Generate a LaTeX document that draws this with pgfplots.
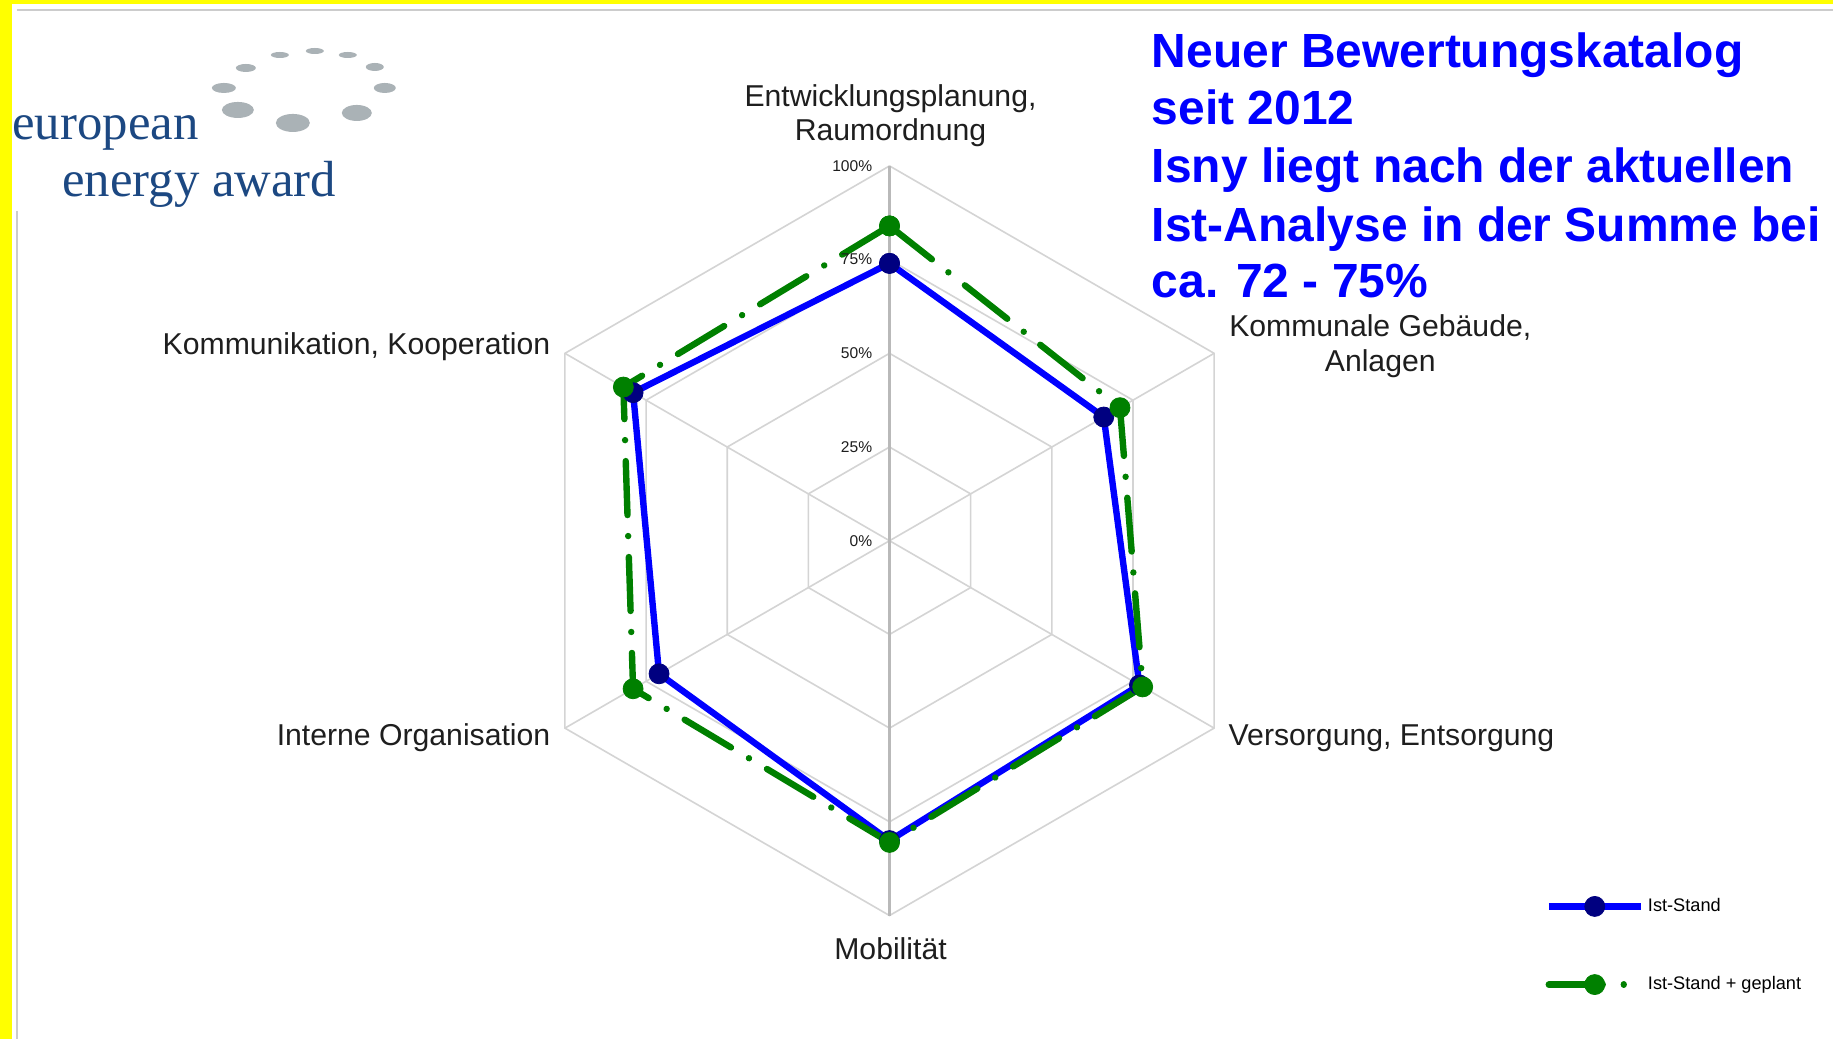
\documentclass[border=0pt]{standalone}
\usepackage{pgfplots}
\pgfplotsset{compat=1.18}
\usepgfplotslibrary{polar}
\usepackage{fontspec}
\setmainfont{Liberation Sans}
\newfontfamily\logofont{Liberation Serif}
\newfontfamily\titlefont{Liberation Sans}
\definecolor{eeablue}{RGB}{28,72,130}
\definecolor{dotgray}{RGB}{170,178,182}
\definecolor{navy}{RGB}{0,0,128}
\definecolor{dgreen}{RGB}{0,128,0}
\definecolor{gridgray}{RGB}{212,212,212}
\definecolor{spokegray}{RGB}{185,185,185}
\definecolor{ybg}{RGB}{255,255,0}
\definecolor{txt}{RGB}{30,30,30}

\begin{document}
\begin{tikzpicture}[x=0.5pt,y=-0.5pt]
\fill[ybg] (0,0) rectangle (1834,1040);
\fill[white] (12,4) rectangle (1834,1040);
\draw[gray!40, line width=1pt] (17,10) -- (1834,10);
\draw[gray!40, line width=1pt] (17,211) -- (17,1040);
% logo
\foreach \x/\y/\a/\b in {280/55/9/3, 315/51/9/3, 348/55/9/3, 375/67/9/4, 385/88/11/5, 357/113/15/8, 293/123/17/9, 238/110/16/8, 224/88/12/5, 246/68/10/4}
  \fill[dotgray] (\x,\y) ellipse [x radius=\a, y radius=\b];
\node[anchor=base west, inner sep=0, text=eeablue, font=\logofont\fontsize{25.4}{30}\selectfont] at (12,140) {european};
\node[anchor=base west, inner sep=0, text=eeablue, font=\logofont\fontsize{25.4}{30}\selectfont] at (62,197) {energy award};
% title
\begin{scope}[every node/.style={anchor=base west, inner sep=0, text=blue, font=\titlefont\bfseries\fontsize{24}{28}\selectfont}]
\node at (1152,68) {Neuer Bewertungskatalog};
\node at (1152,125) {seit 2012};
\node at (1152,183) {Isny liegt nach der aktuellen};
\node at (1152,242) {Ist-Analyse in der Summe bei};
\node at (1152,298) {ca. 72 - 75\%};
\end{scope}
% category labels
\begin{scope}[every node/.style={inner sep=0, text=txt, font=\fontsize{15.1}{17}\selectfont}]
\node[anchor=base] at (891,107) {Entwicklungsplanung,};
\node[anchor=base] at (891,141) {Raumordnung};
\node[anchor=base] at (1381,337) {Kommunale Gebäude,};
\node[anchor=base] at (1381,372) {Anlagen};
\node[anchor=base west] at (1229,746) {Versorgung, Entsorgung};
\node[anchor=base] at (891,960) {Mobilität};
\node[anchor=base east] at (551,746) {Interne Organisation};
\node[anchor=base east] at (551,355) {Kommunikation, Kooperation};
\end{scope}

\begin{polaraxis}[
  at={(445pt,-270.5pt)}, anchor=center,
  scale only axis, width=375pt, height=375pt,
  ymin=0, ymax=100, hide axis, clip=false,
  legend image code/.code={\draw[mark repeat=2, mark phase=2, #1] plot coordinates {(0pt,0pt) (23pt,0pt) (46pt,0pt)};},
  legend style={draw=none, fill=none, inner sep=0pt, font=\fontsize{9.1}{11}\selectfont, row sep=27pt,
     cells={anchor=west}, at={(1.3747,-0.040)}, anchor=west},
]
% grid rings
\addplot[gridgray, line width=0.8pt, forget plot] coordinates {(90,25)(30,25)(330,25)(270,25)(210,25)(150,25)(90,25)};
\addplot[gridgray, line width=0.8pt, forget plot] coordinates {(90,50)(30,50)(330,50)(270,50)(210,50)(150,50)(90,50)};
\addplot[gridgray, line width=0.8pt, forget plot] coordinates {(90,75)(30,75)(330,75)(270,75)(210,75)(150,75)(90,75)};
\addplot[gridgray, line width=0.8pt, forget plot] coordinates {(90,100)(30,100)(330,100)(270,100)(210,100)(150,100)(90,100)};
% spokes
\addplot[gridgray, line width=0.8pt, forget plot] coordinates {(30,100)(210,100)};
\addplot[gridgray, line width=0.8pt, forget plot] coordinates {(150,100)(330,100)};
\addplot[spokegray, line width=1.3pt, forget plot] coordinates {(90,100)(270,100)};
% data
\addplot[color=blue, line width=3.2pt, line join=round, mark=*, mark size=5pt,
  mark options={fill=navy, draw=navy, solid, line width=0.4pt}]
  coordinates {(90,74)(30,66)(330,77)(270,80)(210,71)(150,79)(90,74)};
\addplot[color=dgreen, line width=3.2pt, line cap=round, line join=round,
  dash pattern=on 27pt off 10.5pt on 0.01pt off 10.5pt, mark=*, mark size=5pt,
  mark options={fill=dgreen, draw=dgreen, solid, line width=0.4pt}]
  coordinates {(90,84)(30,71)(330,78)(270,80.5)(210,79)(150,82)(90,84)};
\legend{Ist-Stand, Ist-Stand + geplant}
% percent labels
\node[anchor=east, inner sep=0, xshift=-8.5pt, text=txt, font=\fontsize{7.8}{9}\selectfont] at (axis cs:90,100) {100\%};
\node[anchor=east, inner sep=0, xshift=-8.5pt, text=txt, font=\fontsize{7.8}{9}\selectfont] at (axis cs:90,75) {75\%};
\node[anchor=east, inner sep=0, xshift=-8.5pt, text=txt, font=\fontsize{7.8}{9}\selectfont] at (axis cs:90,50) {50\%};
\node[anchor=east, inner sep=0, xshift=-8.5pt, text=txt, font=\fontsize{7.8}{9}\selectfont] at (axis cs:90,25) {25\%};
\node[anchor=east, inner sep=0, xshift=-8.5pt, text=txt, font=\fontsize{7.8}{9}\selectfont] at (axis cs:0,0) {0\%};
\end{polaraxis}
\end{tikzpicture}
\end{document}
